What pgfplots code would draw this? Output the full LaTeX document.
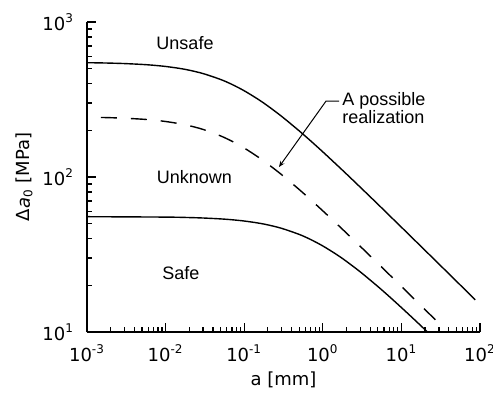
\documentclass[border=0pt]{standalone}
\usepackage{pgfplots}
\pgfplotsset{compat=1.18}
\usepackage{fontspec}
\setmainfont{DejaVu Sans}
\newfontfamily\arial{Liberation Sans}
\usetikzlibrary{arrows.meta}
\begin{document}
\begin{tikzpicture}
\begin{axis}[
  name=ax,
  scale only axis,
  width=196.5pt, height=155pt,
  xmode=log, ymode=log,
  xmin=1e-3, xmax=1e2, ymin=10, ymax=1000,
  axis lines*=left,
  axis line style={line width=1pt},
  tick align=inside,
  major tick length=4.5pt, minor tick length=2.5pt,
  every tick/.style={black, line width=0.6pt},
  xtick={1e-3,1e-2,1e-1,1,10,100},
  minor xtick={2e-3,3e-3,4e-3,5e-3,6e-3,7e-3,8e-3,9e-3,
               2e-2,3e-2,4e-2,5e-2,6e-2,7e-2,8e-2,9e-2,
               0.2,0.3,0.4,0.5,0.6,0.7,0.8,0.9,
               2,3,4,5,6,7,8,9,
               20,30,40,50,60,70,80,90},
  xticklabels={10\textsuperscript{-3},10\textsuperscript{-2},10\textsuperscript{-1},10\textsuperscript{0},10\textsuperscript{1},10\textsuperscript{2}},
  ytick={10,100,1000},
  minor ytick={20,30,40,50,60,70,80,90,200,300,400,500,600,700,800,900},
  yticklabels={10\textsuperscript{1},10\textsuperscript{2},10\textsuperscript{3}},
  font=\fontsize{9}{10.5}\selectfont,
  xticklabel style={yshift=-3pt},
  yticklabel style={xshift=-3pt},
  xlabel={a [mm]},
  ylabel={Δ\textit{a}\textsubscript{0} [MPa]},
  xlabel style={yshift=2pt},
  ylabel style={yshift=-2pt},
  clip=false,
]
\addplot[black, line width=0.7pt, smooth] coordinates {
(0.001,546.4) (0.0015,544.6) (0.002,542.8) (0.003,539.3) (0.005,532.5) (0.007,526.0)
(0.01,516.6) (0.015,502.1) (0.02,488.7) (0.03,464.8) (0.05,426.0) (0.07,395.6)
(0.1,360.1) (0.15,317.5) (0.2,287.2) (0.3,246.0) (0.5,198.6) (0.7,171.1)
(1,145.3) (1.5,120.0) (2,104.6) (3,85.9) (5,66.9) (7,56.6)
(10,47.45) (15,38.79) (20,33.62) (30,27.47) (50,21.29) (70,17.99) (87,16.14)
};
\addplot[black, line width=0.7pt, smooth, dash pattern=on 8pt off 7pt] coordinates {
(0.0015,242.2) (0.002,241.3) (0.003,239.5) (0.005,236.1) (0.007,232.8)
(0.01,228.1) (0.015,220.8) (0.02,214.2) (0.03,202.7) (0.05,184.2) (0.07,170.0)
(0.1,153.8) (0.15,134.7) (0.2,121.3) (0.3,103.4) (0.5,83.1) (0.7,71.4)
(1,60.5) (1.5,49.93) (2,43.47) (3,35.68) (5,27.75) (7,23.50)
(10,19.69) (15,16.09) (20,13.94) (30,11.39)
};
\addplot[black, line width=0.7pt, smooth] coordinates {
(0.001,55.46) (0.01,55.12) (0.02,54.75) (0.03,54.38) (0.05,53.67) (0.07,52.98)
(0.1,52.01) (0.15,50.49) (0.2,49.10) (0.3,46.63) (0.5,42.64) (0.7,39.52)
(1,35.91) (1.5,31.61) (2,28.55) (3,24.42) (5,19.69) (7,16.95)
(10,14.38) (15,11.88) (21.5,9.99)
};
\node[font=\arial\fontsize{9}{10.5}\selectfont] at (axis cs:0.01766,732) {Unsafe};
\node[font=\arial\fontsize{9}{10.5}\selectfont] at (axis cs:0.0233,100) {Unknown};
\node[font=\arial\fontsize{9}{10.5}\selectfont] at (axis cs:0.0157,24) {Safe};
\node[font=\arial\fontsize{9}{9}\selectfont, anchor=west, align=left, inner sep=0pt] at (axis cs:1.75,280) {A possible\\realization};
\draw[black, line width=0.5pt, -{Stealth[length=3pt,width=2.4pt]}] (axis cs:1.61,309) -- (axis cs:1.10,309) -- (axis cs:0.277,116);
\end{axis}
\pgfresetboundingbox
\path[use as bounding box] ([xshift=-43.5pt,yshift=-30pt]ax.south west) rectangle ([xshift=6.5pt,yshift=11pt]ax.north east);
\end{tikzpicture}
\end{document}
